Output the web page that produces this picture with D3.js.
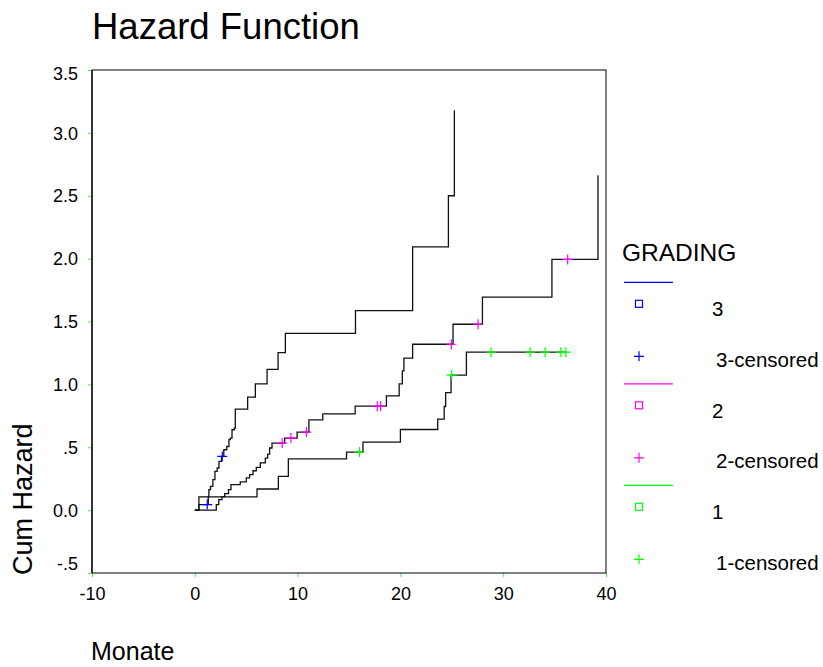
<!DOCTYPE html>
<html>
<head>
<meta charset="utf-8">
<script src="https://cdn.jsdelivr.net/npm/d3@7"></script>
<style>
  body { margin: 0; background: #fff; }
  text { font-family: "Liberation Sans", Arial, sans-serif; fill: #000; }
</style>
</head>
<body>
<svg id="chart" width="823" height="667"></svg>
<script>
// Cumulative hazard per grading group: event times (months) and hazard after each step
const grade3Time = [0.40, 1.31, 1.37, 1.53, 1.76, 1.96, 2.18, 2.35, 2.60, 2.82, 3.11, 3.32, 3.45, 3.62, 3.84, 3.94, 5.14, 5.89, 7.03, 8.10, 8.81, 15.63, 21.19, 24.67, 25.25];
const grade3Haz  = [0.044, 0.105, 0.163, 0.189, 0.242, 0.308, 0.335, 0.387, 0.427, 0.480, 0.506, 0.560, 0.573, 0.639, 0.652, 0.803, 0.898, 1.004, 1.120, 1.252, 1.406, 1.586, 2.094, 2.500, 3.180];
const grade3Censored = [1.21, 2.67];

const grade2Time = [2.09, 2.33, 2.64, 2.91, 3.28, 3.52, 4.42, 5.01, 5.33, 5.66, 5.98, 6.37, 6.86, 7.09, 7.28, 7.51, 8.74, 9.95, 11.10, 12.45, 15.60, 18.64, 19.88, 20.19, 20.34, 21.19, 25.12, 27.98, 34.74, 39.22];
const grade2Haz  = [0.044, 0.083, 0.107, 0.131, 0.163, 0.202, 0.224, 0.256, 0.282, 0.313, 0.340, 0.375, 0.414, 0.446, 0.494, 0.533, 0.573, 0.621, 0.718, 0.766, 0.827, 0.908, 1.004, 1.107, 1.208, 1.319, 1.478, 1.694, 1.994, 2.663];
const grade2Censored = [8.50, 9.35, 10.86, 17.75, 18.07, 24.96, 27.55, 36.27];

const grade1Time = [0.40, 6.05, 8.13, 9.10, 14.76, 16.36, 20.00, 23.63, 24.26, 24.40, 24.93, 26.42];
const grade1Haz  = [0.105, 0.168, 0.268, 0.407, 0.462, 0.541, 0.641, 0.724, 0.824, 0.935, 1.073, 1.256];
const grade1Censored = [16.02, 24.99, 28.82, 32.62, 34.08, 35.61, 36.10];

const groupNames  = ["3", "2", "1"];
const groupColors = ["#0000ff", "#ff00ff", "#00ff00"];

const xTicks = [-10, 0, 10, 20, 30, 40];
const yTicks = [-0.5, 0, 0.5, 1, 1.5, 2, 2.5, 3, 3.5];
const yTickLabels = ["-.5", "0.0", ".5", "1.0", "1.5", "2.0", "2.5", "3.0", "3.5"];

const groups = [
  { name: groupNames[0], color: groupColors[0], time: grade3Time, haz: grade3Haz, cens: grade3Censored },
  { name: groupNames[1], color: groupColors[1], time: grade2Time, haz: grade2Haz, cens: grade2Censored },
  { name: groupNames[2], color: groupColors[2], time: grade1Time, haz: grade1Haz, cens: grade1Censored }
];

const svg = d3.select("#chart");
const x = d3.scaleLinear().domain([-10, 40]).range([92, 606]);
const y = d3.scaleLinear().domain([-0.5, 3.5]).range([573, 70]);

// Title and axis titles
svg.append("text").attr("x", 92).attr("y", 38.5).attr("font-size", 36.5).text("Hazard Function");
svg.append("text").attr("transform", "translate(32,575) rotate(-90)")
  .attr("font-size", 27).text("Cum Hazard");
svg.append("text").attr("x", 91).attr("y", 660).attr("font-size", 25).text("Monate");

// Axes with short green ticks
const yAxis = svg.append("g").attr("transform", `translate(${x(-10) - 1},0)`)
  .call(d3.axisLeft(y).tickValues(yTicks).tickSize(3).tickPadding(10)
    .tickFormat((d, i) => yTickLabels[i]));
yAxis.select(".domain").remove();
yAxis.selectAll(".tick line").attr("stroke", "#44ee44");
yAxis.selectAll(".tick text").attr("font-size", 18).attr("font-family", null)
  .attr("dy", d => d === 3.5 ? "0.55em" : d === -0.5 ? "-0.2em" : "0.34em");

const xAxis = svg.append("g").attr("transform", `translate(0,${y(-0.5)})`)
  .call(d3.axisBottom(x).tickValues(xTicks).tickSize(4).tickPadding(10)
    .tickFormat(d => String(d)));
xAxis.select(".domain").remove();
xAxis.selectAll(".tick line").attr("stroke", "#44ee44");
xAxis.selectAll(".tick text").attr("font-size", 18).attr("font-family", null);

// Plot frame; left axis drawn heavier
svg.append("rect")
  .attr("x", x(-10)).attr("y", y(3.5))
  .attr("width", x(40) - x(-10)).attr("height", y(-0.5) - y(3.5))
  .attr("fill", "none").attr("stroke", "#000").attr("stroke-width", 1);
svg.append("line")
  .attr("x1", x(-10)).attr("x2", x(-10)).attr("y1", y(3.5)).attr("y2", y(-0.5))
  .attr("stroke", "#333").attr("stroke-width", 2);

// Level of a step function at time t
function levelAt(g, t) {
  let h = 0;
  g.time.forEach((tt, i) => { if (tt <= t) h = g.haz[i]; });
  return h;
}

// Step curves
groups.forEach(g => {
  const pts = [[0, 0]];
  let prev = 0;
  g.time.forEach((t, i) => {
    pts.push([t, prev]);
    pts.push([t, g.haz[i]]);
    prev = g.haz[i];
  });
  const lastCens = d3.max(g.cens);
  if (lastCens > g.time[g.time.length - 1]) pts.push([lastCens, prev]);
  svg.append("path")
    .attr("d", d3.line().x(d => x(d[0])).y(d => y(d[1]))(pts))
    .attr("fill", "none").attr("stroke", "#111").attr("stroke-width", 1.3);
});

// Censored observations as plus marks
const plus = "M-5,0H5M0,-5V5";
groups.forEach(g => {
  svg.append("g").selectAll("path").data(g.cens).join("path")
    .attr("transform", t => `translate(${x(t)},${y(levelAt(g, t))})`)
    .attr("d", plus).attr("stroke", g.color).attr("stroke-width", 1.2).attr("fill", "none");
});

// Legend
const lg = svg.append("g");
lg.append("text").attr("x", 622).attr("y", 261).attr("font-size", 24.5).text("GRADING");
groups.forEach((g, i) => {
  const base = 282.3 + 101.5 * i;
  lg.append("line").attr("x1", 624).attr("x2", 673).attr("y1", base).attr("y2", base)
    .attr("stroke", g.color).attr("stroke-width", 1.2);
  lg.append("rect").attr("x", 635.5).attr("y", base + 18).attr("width", 7).attr("height", 7)
    .attr("fill", "none").attr("stroke", g.color).attr("stroke-width", 1.2);
  lg.append("text").attr("x", 712).attr("y", base + 34).attr("font-size", 20.5).text(g.name);
  lg.append("path").attr("transform", `translate(639,${base + 74})`).attr("d", plus)
    .attr("stroke", g.color).attr("stroke-width", 1.2).attr("fill", "none");
  lg.append("text").attr("x", 716).attr("y", base + 84.3).attr("font-size", 20.5).text(g.name + "-censored");
});
</script>
</body>
</html>
